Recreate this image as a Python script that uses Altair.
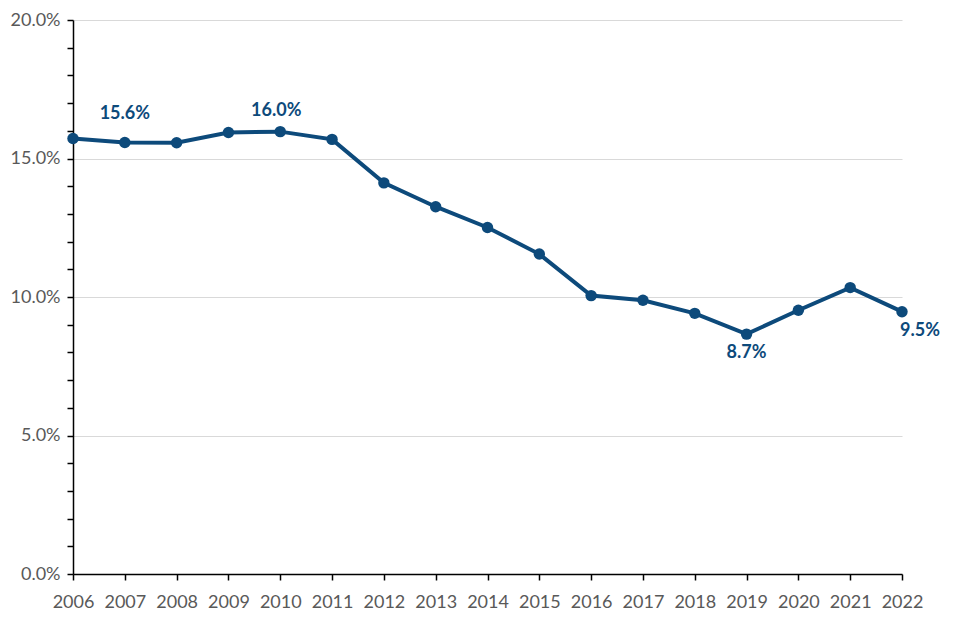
import altair as alt
import pandas as pd

years = list(range(2006, 2023))
rates = [15.72, 15.58, 15.57, 15.94, 15.97, 15.69, 14.12, 13.26, 12.51, 11.55,
         10.05, 9.88, 9.41, 8.66, 9.52, 10.34, 9.47]

df = pd.DataFrame({"year": years, "rate": [r / 100 for r in rates]})

BLUE = "#0d4a7b"
FONT = "Lato"

x = alt.X("year:Q",
          scale=alt.Scale(domain=[2006, 2022], nice=False, zero=False),
          axis=alt.Axis(values=years, format="d", title=None, grid=False,
                        tickSize=6, labelPadding=13, labelFontSize=18,
                        labelColor="#595959", labelFont=FONT,
                        domainColor="#000000", tickColor="#000000",
                        domainWidth=1.5, tickWidth=1.5, labelFlush=False))
y = alt.Y("rate:Q",
          scale=alt.Scale(domain=[0, 0.20], nice=False),
          axis=alt.Axis(values=[i / 100 for i in range(0, 21)], format=".1%",
                        title=None,
                        labelExpr="round(datum.value*100) % 5 == 0 ? datum.label : ''",
                        gridOpacity={"condition": {"test": "round(datum.value*100) % 5 == 0", "value": 1}, "value": 0},
                        gridColor="#d9d9d9", gridWidth=1,
                        tickSize=6, labelPadding=7, labelFontSize=18,
                        labelColor="#595959", labelFont=FONT,
                        domainColor="#000000", tickColor="#000000",
                        domainWidth=1.5, tickWidth=1.5))

base = alt.Chart(df)
line = base.mark_line(color=BLUE, strokeWidth=4).encode(x=x, y=y)
pts = base.mark_point(filled=True, color=BLUE, size=130, opacity=1).encode(x=x, y=y)

def label(year, dx, dy):
    return base.transform_filter(alt.datum.year == year).mark_text(
        color=BLUE, fontSize=18, fontWeight="bold", font=FONT, dx=dx, dy=dy
    ).encode(x=x, y=y, text=alt.Text("rate:Q", format=".1%"))

chart = alt.layer(
    line, pts,
    label(2007, 0, -28),
    label(2010, -4, -21),
    label(2019, 0, 19),
    label(2022, 18, 19),
).properties(
    width=829, height=554,
    autosize=alt.AutoSizeParams(type="none"),
    padding={"left": 65, "top": 12, "right": 50, "bottom": 50},
    background="white",
).configure_view(stroke=None)

chart.save("out.html", embed_options={"renderer": "svg", "actions": False})
